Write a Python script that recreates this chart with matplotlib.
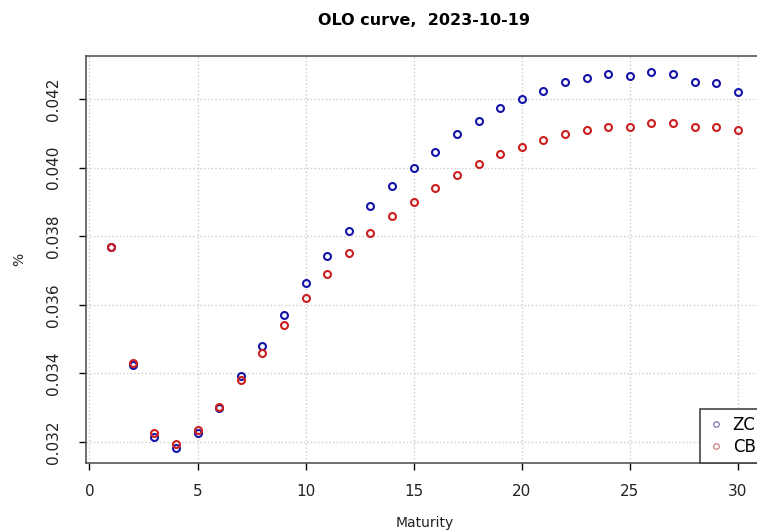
import numpy as np
import matplotlib
matplotlib.use("Agg")
import matplotlib.pyplot as plt

# maturities in years
maturity = list(range(1, 31))

# zero coupon curve
zc = [0.03769, 0.03425, 0.03214, 0.03183, 0.03227, 0.03300, 0.03392, 0.03481, 0.03571, 0.03663,
      0.03742, 0.03815, 0.03888, 0.03947, 0.03998, 0.04046, 0.04098, 0.04135, 0.04173, 0.04200,
      0.04224, 0.04250, 0.04262, 0.04273, 0.04267, 0.04278, 0.04273, 0.04250, 0.04246, 0.04221]

# coupon bond curve
cb = [0.03769, 0.03430, 0.03227, 0.03193, 0.03234, 0.03303, 0.03380, 0.03460, 0.03541, 0.03619,
      0.03690, 0.03751, 0.03810, 0.03859, 0.03899, 0.03940, 0.03979, 0.04010, 0.04039, 0.04060,
      0.04080, 0.04098, 0.04109, 0.04119, 0.04119, 0.04130, 0.04130, 0.04119, 0.04119, 0.04109]

xticks = [0, 5, 10, 15, 20, 25, 30]
yticks = [0.032, 0.034, 0.036, 0.038, 0.040, 0.042]

blue = "#1414a8"
red = "#cc2020"

fig = plt.figure(figsize=(7.57, 5.31), dpi=100)
ax = fig.add_axes([86/757, 68/531, 677/757, 407/531])

ax.plot(maturity, zc, linestyle="none", marker="o", markersize=5, markerfacecolor="none",
        markeredgecolor=blue, markeredgewidth=1.5, label="ZC")
ax.plot(maturity, cb, linestyle="none", marker="o", markersize=5, markerfacecolor="none",
        markeredgecolor=red, markeredgewidth=1.5, label="CB")

ax.set_xlim(-0.16, 31.16)
ax.set_ylim(0.031388, 0.043254)
ax.set_xticks(xticks)
ax.set_yticks(yticks)
ax.set_xticklabels([str(t) for t in xticks])
ax.set_yticklabels(["%.3f" % t for t in yticks], rotation=90, va="center")
ax.tick_params(direction="out", length=5, width=1, colors="black", labelsize=11,
               labelcolor="#222222")
ax.tick_params(axis="x", pad=10)
ax.tick_params(axis="y", pad=13)
ax.grid(True, color="#cccccc", linestyle=":", linewidth=1)
ax.set_axisbelow(True)
for s in ax.spines.values():
    s.set_color("#555555")
    s.set_linewidth(1.2)

ax.set_xlabel("Maturity", fontsize=10, color="#222222", labelpad=12)
ax.set_ylabel("%", fontsize=10, color="#222222", labelpad=14)
ax.set_title("OLO curve,  2023-10-19", fontsize=11.5, fontweight="bold", pad=22)

h1, = ax.plot([], [], linestyle="none", marker="o", markersize=4, markerfacecolor="none",
              markeredgecolor="#6a6ab0", markeredgewidth=0.8)
h2, = ax.plot([], [], linestyle="none", marker="o", markersize=4, markerfacecolor="none",
              markeredgecolor="#c07070", markeredgewidth=0.8)
leg = ax.legend([h1, h2], ["ZC", "CB"], loc="lower right", bbox_to_anchor=(1, 0),
                borderaxespad=0, fontsize=12, handlelength=1.0, handletextpad=0.5,
                labelspacing=0.2, borderpad=0.45, fancybox=False, framealpha=1)
leg.get_frame().set_edgecolor("#444444")
leg.get_frame().set_linewidth(1.2)

plt.savefig("out.png", dpi=100)
